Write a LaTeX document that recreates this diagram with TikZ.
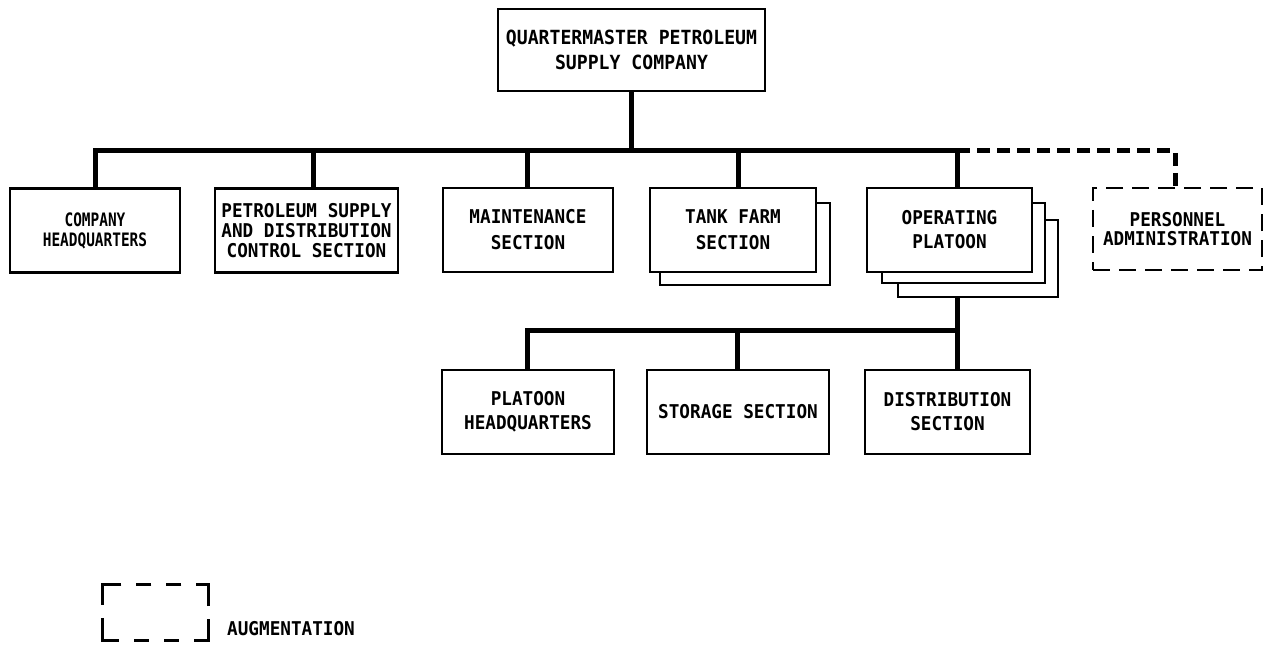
\documentclass[tikz,border=0pt]{standalone}
\usepackage{fontspec}
\setmainfont{DejaVu Sans Mono}[FakeStretch=0.93]
\newfontfamily\narrowletter{DejaVu Sans Mono}[FakeStretch=0.78]
\tikzset{
  unitbox/.style={draw,line width=2.6pt,fill=white,minimum width=#1,minimum height=84pt,inner sep=0pt,align=center,font=\fontsize{19}{24}\selectfont\bfseries},
  augbox/.style={unitbox=#1,dash pattern=on 17pt off 9pt},
  link/.style={line width=5pt},
  auglink/.style={line width=5pt,dash pattern=on 13pt off 7pt},
  legendline/.style={line width=2.8pt,dash pattern=on 37pt off 13pt on 39pt off 15pt on 15pt off 15pt on 15pt off 15pt on 35pt off 13pt on 33pt off 15pt on 15pt off 15pt on 15pt off 15pt},
}
\begin{document}
\begin{tikzpicture}[x=1pt,y=-1pt]
  \useasboundingbox (0,0) rectangle (1271,647);
  \coordinate (bus) at (0,151);
  \coordinate (subbus) at (0,330);
  \node (QMPSC) at (631.5,50) [unitbox=267pt,minimum height=82pt,font=\fontsize{19.5}{25}\selectfont\bfseries] {QUARTERMASTER PETROLEUM\\SUPPLY COMPANY};
  \node (CoHQ) at (95,230.5) [unitbox=170pt,font=\narrowletter\fontsize{18.5}{20}\selectfont\bfseries] {COMPANY\\HEADQUARTERS};
  \node (PSDC) at (306.5,230.5) [unitbox=183pt,font=\fontsize{19}{20}\selectfont\bfseries] {PETROLEUM SUPPLY\\AND DISTRIBUTION\\CONTROL SECTION};
  \node (Maint) at (528,230) [unitbox=170pt,font=\fontsize{19}{26}\selectfont\bfseries] {MAINTENANCE\\SECTION};
  \node (TankFarm2) at (745,244) [unitbox=170pt,minimum height=82pt] {};
  \node (TankFarm) at (733,230) [unitbox=166pt,font=\fontsize{19}{26}\selectfont\bfseries] {TANK FARM\\SECTION};
  \node (OpPlatoon3) at (978,258.5) [unitbox=160pt,minimum height=77pt] {};
  \node (OpPlatoon2) at (963.5,243) [unitbox=163pt,minimum height=80pt] {};
  \node (OpPlatoon) at (949.5,230) [unitbox=165pt] {OPERATING\\PLATOON};
  \node (PersAdmin) at (1177.5,229) [augbox=169pt,minimum height=82pt,font=\fontsize{19}{19}\selectfont\bfseries] {PERSONNEL\\ADMINISTRATION};
  \node (PltHQ) at (528,412) [unitbox=172pt] {PLATOON\\HEADQUARTERS};
  \node (Storage) at (738,412) [unitbox=182pt] {STORAGE SECTION};
  \node (Distrib) at (947.5,412) [unitbox=165pt] {DISTRIBUTION\\SECTION};
  \node (Legend) at (155.5,612.5) [minimum width=105pt,minimum height=55pt,inner sep=0pt] {};
  \node (AugText) at (227,629) [anchor=west,inner sep=0pt,font=\fontsize{19}{24}\selectfont\bfseries] {AUGMENTATION};
  \draw [link] (QMPSC.south) -- (QMPSC.south |- bus);
  \draw [link] (CoHQ.north) |- ([xshift=7.5pt]OpPlatoon.north |- bus) -- ([xshift=7.5pt]OpPlatoon.north);
  \draw [link] ([xshift=6.5pt]PSDC.north) -- ([xshift=6.5pt]PSDC.north |- bus);
  \draw [link] ([xshift=-1pt]Maint.north) -- ([xshift=-1pt]Maint.north |- bus);
  \draw [link] ([xshift=5pt]TankFarm.north) -- ([xshift=5pt]TankFarm.north |- bus);
  \draw [auglink] ([xshift=7.5pt]OpPlatoon.north |- bus) -| ([xshift=-2.5pt]PersAdmin.north);
  \draw [link] ([xshift=-21pt]OpPlatoon3.south) -- ([xshift=9.5pt]Distrib.north);
  \draw [link] ([xshift=-1pt]PltHQ.north) |- ([xshift=9.5pt]Distrib.north |- subbus);
  \draw [link] ([xshift=-1pt]Storage.north) -- ([xshift=-1pt]Storage.north |- subbus);
  \draw [legendline] ([xshift=17pt]Legend.north west) -- (Legend.north west) -- (Legend.south west) -- (Legend.south east) -- (Legend.north east) -- cycle;
\end{tikzpicture}
\end{document}
